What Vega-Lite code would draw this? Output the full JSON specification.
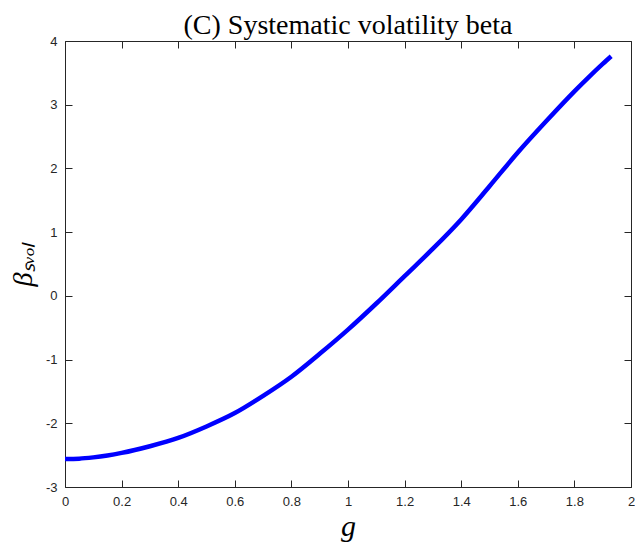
{
  "$schema": "https://vega.github.io/schema/vega-lite/v6.json",
  "width": 566,
  "height": 446,
  "autosize": "none",
  "padding": {"left": 65, "top": 41, "right": 4, "bottom": 56},
  "title": {
    "text": "(C) Systematic volatility beta",
    "font": "Liberation Serif",
    "fontSize": 28,
    "fontWeight": "normal",
    "color": "#000000",
    "anchor": "middle",
    "offset": -5
  },
  "config": {
    "view": {"stroke": null}
  },
  "data": {
    "values": [
      {"g": 0.0, "beta": -2.56},
      {"g": 0.05, "beta": -2.555},
      {"g": 0.1, "beta": -2.535},
      {"g": 0.15, "beta": -2.505},
      {"g": 0.2, "beta": -2.465},
      {"g": 0.3, "beta": -2.36},
      {"g": 0.4, "beta": -2.23},
      {"g": 0.5, "beta": -2.05},
      {"g": 0.6, "beta": -1.84},
      {"g": 0.7, "beta": -1.57},
      {"g": 0.8, "beta": -1.27},
      {"g": 0.9, "beta": -0.91},
      {"g": 1.0, "beta": -0.53},
      {"g": 1.1, "beta": -0.12},
      {"g": 1.2, "beta": 0.31},
      {"g": 1.3, "beta": 0.74},
      {"g": 1.4, "beta": 1.2},
      {"g": 1.5, "beta": 1.72},
      {"g": 1.6, "beta": 2.25},
      {"g": 1.7, "beta": 2.74},
      {"g": 1.8, "beta": 3.21},
      {"g": 1.85, "beta": 3.43},
      {"g": 1.9, "beta": 3.64},
      {"g": 1.93, "beta": 3.76}
    ]
  },
  "layer": [
    {
      "mark": {"type": "line", "color": "#0000ff", "strokeWidth": 4.5, "interpolate": "monotone"},
      "encoding": {
        "x": {
          "field": "g", "type": "quantitative",
          "scale": {"domain": [0, 2], "nice": false, "zero": false},
          "axis": {"orient": "bottom", "tickCount": 10, "gridOpacity": 0, "domainColor": "#262626", "domainWidth": 1, "tickSize": -7, "tickWidth": 1, "tickColor": "#262626", "labelPadding": 15, "labelExpr": "toString(datum.value)", "labelFont": "Liberation Sans", "labelFontSize": 13, "labelColor": "#262626", "labelFlush": false, "title": "g", "titleFont": "Liberation Serif", "titleFontStyle": "italic", "titleFontWeight": "normal", "titleColor": "#000000", "titleFontSize": 30, "titlePadding": 3}
        },
        "y": {
          "field": "beta", "type": "quantitative",
          "scale": {"domain": [-3, 4], "nice": false, "zero": false},
          "axis": {"orient": "left", "tickCount": 7, "gridOpacity": 0, "domainColor": "#262626", "domainWidth": 1, "tickSize": -7, "tickWidth": 1, "tickColor": "#262626", "labelPadding": 15, "labelExpr": "toString(datum.value)", "labelFont": "Liberation Sans", "labelFontSize": 13, "labelColor": "#262626", "labelFlush": false, "title": "βₛᵥₒₗ", "titleFont": "Liberation Serif", "titleFontStyle": "italic", "titleFontWeight": "normal", "titleColor": "#000000", "titleFontSize": 28, "titlePadding": 8}
        }
      }
    },
    {
      "mark": {"type": "line", "opacity": 0},
      "encoding": {
        "x": {
          "field": "g", "type": "quantitative",
          "axis": {"orient": "top", "tickCount": 10, "gridOpacity": 0, "domainColor": "#262626", "domainWidth": 1, "tickSize": -7, "tickWidth": 1, "tickColor": "#262626", "labels": false, "title": null}
        },
        "y": {
          "field": "beta", "type": "quantitative",
          "axis": {"orient": "right", "tickCount": 7, "gridOpacity": 0, "domainColor": "#262626", "domainWidth": 1, "tickSize": -7, "tickWidth": 1, "tickColor": "#262626", "labels": false, "title": null}
        }
      }
    }
  ],
  "resolve": {"axis": {"x": "independent", "y": "independent"}}
}
